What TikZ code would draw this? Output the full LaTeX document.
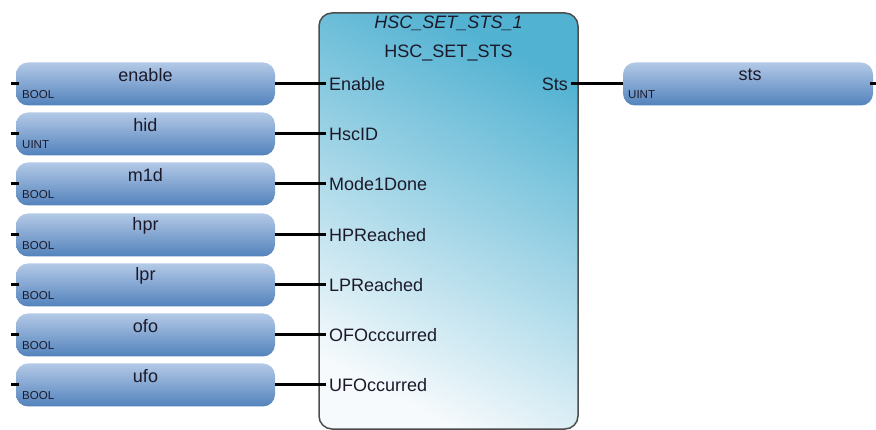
\documentclass[tikz,border=0pt]{standalone}
\usepackage{fontspec}
\setmainfont{Liberation Sans}
\definecolor{varTop}{HTML}{B3C9E7}
\definecolor{varBottom}{HTML}{5282BC}
\definecolor{fbTeal}{HTML}{52B2D2}
\definecolor{fbLight}{HTML}{F6FAFC}
\definecolor{pinText}{HTML}{1C1A2A}

\begin{document}
\begin{tikzpicture}[x=1pt,y=-1pt,
        var/.style={rectangle,rounded corners=12pt,top color=varTop,bottom color=varBottom,minimum width=259pt,minimum height=43pt,inner sep=0pt},
        outvar/.style={var,minimum width=250pt},
        vname/.style={font=\fontsize{18}{20}\selectfont,text=pinText,inner sep=0pt},
        vtype/.style={font=\fontsize{11.5}{13}\selectfont,text=pinText,anchor=west,inner sep=0pt},
        fblock/.style={rectangle,rounded corners=13pt,draw=black!70,line width=1.5pt,left color=fbLight,right color=fbTeal,shading angle=152,minimum width=259pt,minimum height=416pt},
        pin/.style={font=\fontsize{18}{20}\selectfont,text=pinText,inner sep=3pt,anchor=west},
        wire/.style={line width=3pt}]
    \useasboundingbox (0,0) rectangle (876,430);

    % Function block
    \node[fblock] (fb) at (448.5,221) {};
    \node[vname,font=\fontsize{18}{20}\selectfont\itshape] (fbInst) at (448.5,23) {HSC\_SET\_STS\_1};
    \node[vname] (fbType) at (448.5,53) {HSC\_SET\_STS};

    % Pins
    \node[pin] (pEnable) at (326,84) {Enable};
    \node[pin] (pHscID) at (326,134) {HscID};
    \node[pin] (pMode) at (326,184) {Mode1Done};
    \node[pin] (pHP) at (326,235) {HPReached};
    \node[pin] (pLP) at (326,285) {LPReached};
    \node[pin] (pOF) at (326,335) {OFOcccurred};
    \node[pin] (pUF) at (326,385) {UFOccurred};
    \node[pin,anchor=east] (pSts) at (571,84) {Sts};

    % Input variables
    \node[var] (enable) at (145.5,84) {};
    \node[vname] (enableName) at (145.5,75) {enable};
    \node[vtype] (enableType) at (22,94.5) {BOOL};

    \node[var] (hid) at (145.5,134) {};
    \node[vname] (hidName) at (145.5,125) {hid};
    \node[vtype] (hidType) at (22,144.5) {UINT};

    \node[var] (m1d) at (145.5,184) {};
    \node[vname] (m1dName) at (145.5,175) {m1d};
    \node[vtype] (m1dType) at (22,194.5) {BOOL};

    \node[var] (hpr) at (145.5,235) {};
    \node[vname] (hprName) at (145.5,226) {hpr};
    \node[vtype] (hprType) at (22,245.5) {BOOL};

    \node[var] (lpr) at (145.5,285) {};
    \node[vname] (lprName) at (145.5,276) {lpr};
    \node[vtype] (lprType) at (22,295.5) {BOOL};

    \node[var] (ofo) at (145.5,335) {};
    \node[vname] (ofoName) at (145.5,326) {ofo};
    \node[vtype] (ofoType) at (22,345.5) {BOOL};

    \node[var] (ufo) at (145.5,385) {};
    \node[vname] (ufoName) at (145.5,376) {ufo};
    \node[vtype] (ufoType) at (22,395.5) {BOOL};

    % Output variable
    \node[outvar] (sts) at (748,84) {};
    \node[vname] (stsName) at (750,75) {sts};
    \node[vtype] (stsType) at (628,94.5) {UINT};

    % Wires into the block
    \draw[wire] (enable.east) -- (pEnable.west);
    \draw[wire] (hid.east) -- (pHscID.west);
    \draw[wire] (m1d.east) -- (pMode.west);
    \draw[wire] (hpr.east) -- (pHP.west);
    \draw[wire] (lpr.east) -- (pLP.west);
    \draw[wire] (ofo.east) -- (pOF.west);
    \draw[wire] (ufo.east) -- (pUF.west);

    % Wire out of the block
    \draw[wire] (pSts.east) -- (sts.west);

    % Ticks
    \draw[wire] ([xshift=3pt]enable.west) -- +(-8,0);
    \draw[wire] ([xshift=3pt]hid.west) -- +(-8,0);
    \draw[wire] ([xshift=3pt]m1d.west) -- +(-8,0);
    \draw[wire] ([xshift=3pt]hpr.west) -- +(-8,0);
    \draw[wire] ([xshift=3pt]lpr.west) -- +(-8,0);
    \draw[wire] ([xshift=3pt]ofo.west) -- +(-8,0);
    \draw[wire] ([xshift=3pt]ufo.west) -- +(-8,0);
    \draw[wire] ([xshift=-3pt]sts.east) -- +(8,0);
\end{tikzpicture}
\end{document}
